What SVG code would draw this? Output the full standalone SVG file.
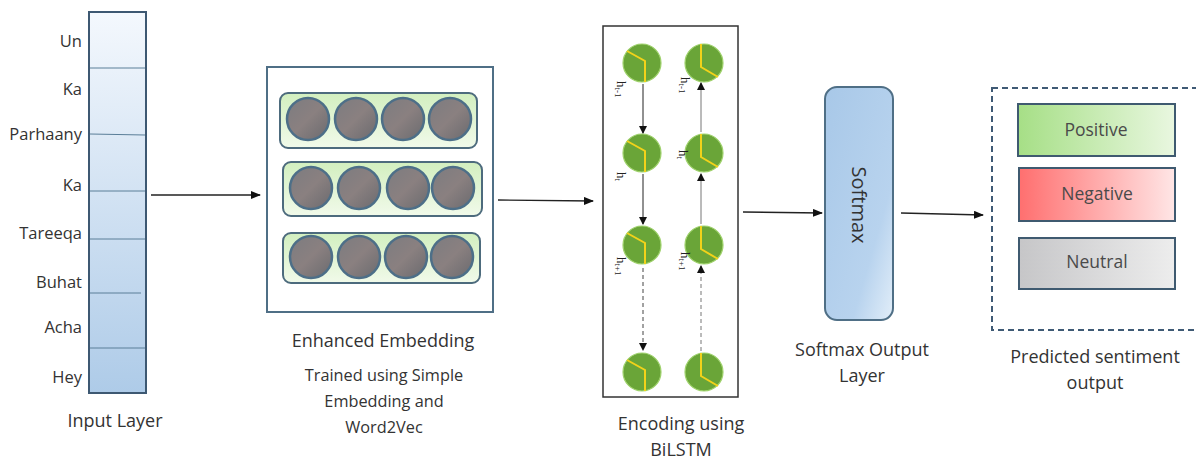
<svg xmlns="http://www.w3.org/2000/svg" width="1196" height="459" viewBox="0 0 1196 459">
<style>
text{font-family:"Open Sans","Liberation Sans",sans-serif;fill:#333;}
.lbl{font-size:16.5px;}
.cap{font-size:18px;text-anchor:middle;}
.sm{font-size:16.3px;text-anchor:middle;}
.ht{font-family:"Liberation Serif",serif;font-size:13px;fill:#222;}
.row{stroke:#4d6b7d;stroke-width:2;fill:url(#gGreen);}
.bead{stroke:#4d6f88;stroke-width:2.5;fill:url(#gGrey);}
.cell{fill:#6aa538;stroke:#9fd26c;stroke-width:1.2;}
.yl{fill:none;stroke:#f2d21a;stroke-width:2;}
.out{stroke:#3f5a70;stroke-width:2;}
.otext{font-size:17.5px;text-anchor:middle;fill:#4a4a4a;}
.conn{stroke:#222;stroke-width:1.3;fill:none;}
</style>
<defs>
<linearGradient id="gInput" x1="0" y1="0" x2="0" y2="1"><stop offset="0" stop-color="#f4f8fd"/><stop offset="1" stop-color="#aecbe8"/></linearGradient>
<linearGradient id="gGreen" x1="0" y1="0" x2="0" y2="1"><stop offset="0" stop-color="#d2efbf"/><stop offset="1" stop-color="#f1faea"/></linearGradient>
<linearGradient id="gGrey" x1="0" y1="0" x2="1" y2="1"><stop offset="0" stop-color="#7c7c80"/><stop offset="0.5" stop-color="#8a8080"/><stop offset="1" stop-color="#6a6a6e"/></linearGradient>
<linearGradient id="gSoft" x1="0" y1="0" x2="1" y2="1"><stop offset="0" stop-color="#a8c8e8"/><stop offset="0.7" stop-color="#b8d3ee"/><stop offset="1" stop-color="#e2eef9"/></linearGradient>
<linearGradient id="gPos" x1="0" y1="0" x2="1" y2="0"><stop offset="0" stop-color="#a6df86"/><stop offset="1" stop-color="#e9f7e0"/></linearGradient>
<linearGradient id="gNeg" x1="0" y1="0" x2="1" y2="0"><stop offset="0" stop-color="#ff6f6f"/><stop offset="1" stop-color="#ffe6e6"/></linearGradient>
<linearGradient id="gNeu" x1="0" y1="0" x2="1" y2="0"><stop offset="0" stop-color="#c6c6c8"/><stop offset="1" stop-color="#ededed"/></linearGradient>
<marker id="ah" markerWidth="10" markerHeight="8" refX="9" refY="4" orient="auto" markerUnits="userSpaceOnUse"><path d="M0,0 L10,4 L0,8 Z" fill="#111"/></marker>
<marker id="ahs" markerWidth="8" markerHeight="8" refX="7" refY="4" orient="auto" markerUnits="userSpaceOnUse"><path d="M0,0 L8,4 L0,8 Z" fill="#111"/></marker>
</defs>
<rect width="1196" height="459" fill="#fff"/>

<g id="input-layer">
<rect x="89" y="12" width="57" height="381" fill="url(#gInput)" stroke="#3d5872" stroke-width="2"/>
<g stroke="#5a7e98" stroke-width="1">
<line x1="90" y1="68" x2="145" y2="68"/><line x1="90" y1="134" x2="145" y2="135"/><line x1="90" y1="191" x2="145" y2="191"/><line x1="90" y1="239" x2="145" y2="239"/><line x1="90" y1="293" x2="141" y2="293"/><line x1="90" y1="348" x2="145" y2="348"/>
</g>
<g class="lbl" text-anchor="end">
<text x="82" y="47">Un</text><text x="82" y="95">Ka</text><text x="82" y="140">Parhaany</text><text x="82" y="191">Ka</text><text x="82" y="239">Tareeqa</text><text x="82" y="288">Buhat</text><text x="82" y="333">Acha</text><text x="82" y="383">Hey</text>
</g>
<text class="cap" x="115" y="427">Input Layer</text>
</g>

<g id="embedding">
<rect x="267" y="67" width="226" height="245" fill="#fff" stroke="#4f6f86" stroke-width="2"/>
<rect class="row" x="280" y="93" width="197" height="55" rx="8"/>
<rect class="row" x="283" y="162" width="199" height="54" rx="8"/>
<rect class="row" x="283" y="233" width="197" height="50" rx="8"/>
<circle class="bead" cx="308" cy="119" r="21"/><circle class="bead" cx="356" cy="119" r="21"/><circle class="bead" cx="403" cy="119" r="21"/><circle class="bead" cx="450" cy="119" r="21"/>
<circle class="bead" cx="311" cy="188" r="21"/><circle class="bead" cx="359" cy="188" r="21"/><circle class="bead" cx="408" cy="188" r="21"/><circle class="bead" cx="453" cy="188" r="21"/>
<circle class="bead" cx="311" cy="257" r="21"/><circle class="bead" cx="359" cy="257" r="21"/><circle class="bead" cx="406" cy="257" r="21"/><circle class="bead" cx="452" cy="257" r="21"/>
<text class="cap" x="383" y="347">Enhanced Embedding</text>
<text class="sm" x="384" y="381">Trained using Simple</text>
<text class="sm" x="384" y="407">Embedding and</text>
<text class="sm" x="384" y="433">Word2Vec</text>
</g>

<g id="bilstm">
<rect x="603" y="26" width="135" height="371" fill="#fff" stroke="#333" stroke-width="1.5"/>
<g id="fwd-cells">
<circle class="cell" cx="642" cy="63" r="19"/><path class="yl" d="M627,51 L645,61 L645,82"/>
<circle class="cell" cx="642" cy="153" r="19"/><path class="yl" d="M627,141 L645,151 L645,172"/>
<circle class="cell" cx="642" cy="245" r="19"/><path class="yl" d="M627,233 L645,243 L645,264"/>
<circle class="cell" cx="642" cy="372" r="19"/><path class="yl" d="M627,360 L645,370 L645,391"/>
</g>
<g id="bwd-cells">
<circle class="cell" cx="704" cy="63" r="19"/><path class="yl" d="M701,44 L701,67 L718,77"/>
<circle class="cell" cx="704" cy="153" r="19"/><path class="yl" d="M701,134 L701,157 L718,167"/>
<circle class="cell" cx="704" cy="245" r="19"/><path class="yl" d="M701,226 L701,249 L718,259"/>
<circle class="cell" cx="704" cy="372" r="19"/><path class="yl" d="M701,353 L701,376 L718,386"/>
</g>
<text class="ht" transform="translate(617,81) rotate(90)">h<tspan font-size="9" dy="2">t-1</tspan></text>
<text class="ht" transform="translate(681,77) rotate(90)">h<tspan font-size="9" dy="2">t-1</tspan></text>
<text class="ht" transform="translate(617,172) rotate(90)">h<tspan font-size="9" dy="2">t</tspan></text>
<text class="ht" transform="translate(679,150) rotate(90)">h<tspan font-size="9" dy="2">t</tspan></text>
<text class="ht" transform="translate(617,257) rotate(90)">h<tspan font-size="9" dy="2">t+1</tspan></text>
<text class="ht" transform="translate(681,252) rotate(90)">h<tspan font-size="9" dy="2">t+1</tspan></text>
<text class="cap" x="681" y="430">Encoding using</text>
<text class="cap" x="681" y="456">BiLSTM</text>
</g>

<g id="softmax">
<rect x="825" y="87" width="68" height="233" rx="12" fill="url(#gSoft)" stroke="#4f6f86" stroke-width="2"/>
<text transform="translate(852,205) rotate(90)" font-size="20" text-anchor="middle" fill="#444">Softmax</text>
<text class="cap" x="862" y="356">Softmax Output</text>
<text class="cap" x="862" y="382">Layer</text>
</g>

<g id="output">
<rect x="992" y="88" width="210" height="242" fill="none" stroke="#3f5a75" stroke-width="2" stroke-dasharray="6,4"/>
<rect class="out" x="1018" y="104" width="157" height="52" fill="url(#gPos)"/>
<text class="otext" x="1096" y="136">Positive</text>
<rect class="out" x="1019" y="168" width="156" height="53" fill="url(#gNeg)"/>
<text class="otext" x="1097" y="200">Negative</text>
<rect class="out" x="1019" y="238" width="156" height="51" fill="url(#gNeu)"/>
<text class="otext" x="1097" y="268">Neutral</text>
<text class="cap" x="1095" y="363">Predicted sentiment</text>
<text class="cap" x="1095" y="389">output</text>
</g>

<g id="connectors">
<line class="conn" x1="151" y1="195" x2="260" y2="195" marker-end="url(#ah)"/>
<line class="conn" x1="498" y1="200" x2="593" y2="201" marker-end="url(#ah)"/>
<line class="conn" x1="743" y1="212" x2="822" y2="213" marker-end="url(#ah)"/>
<line class="conn" x1="901" y1="213" x2="983" y2="215" marker-end="url(#ah)"/>
<line stroke="#222" stroke-width="1" x1="643" y1="84" x2="643" y2="133" marker-end="url(#ahs)"/>
<line stroke="#222" stroke-width="1" x1="643" y1="174" x2="643" y2="224" marker-end="url(#ahs)"/>
<line stroke="#444" stroke-width="1" stroke-dasharray="4,3" x1="643" y1="268" x2="643" y2="350" marker-end="url(#ahs)"/>
<line stroke="#777" stroke-width="1" x1="701" y1="132" x2="701" y2="83" marker-end="url(#ahs)"/>
<line stroke="#777" stroke-width="1" x1="701" y1="224" x2="701" y2="174" marker-end="url(#ahs)"/>
<line stroke="#777" stroke-width="1" stroke-dasharray="4,3" x1="701" y1="351" x2="701" y2="266" marker-end="url(#ahs)"/>
</g>
</svg>
